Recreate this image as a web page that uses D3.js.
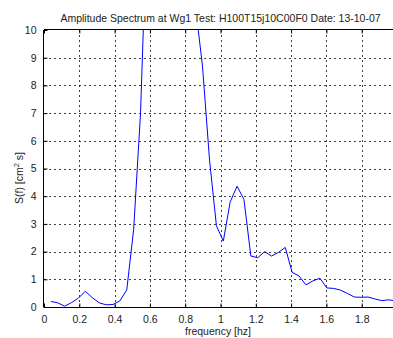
<!DOCTYPE html>
<html>
<head>
<meta charset="utf-8">
<script src="https://cdn.jsdelivr.net/npm/d3@7"></script>
<style>
  body { margin: 0; background: #fff; }
  svg { display: block; font-family: "Liberation Sans", Arial, sans-serif; }
</style>
</head>
<body>
<div id="chart"></div>
<script>
// spectrum bins (hz)
var freqs = [0.039, 0.078, 0.117, 0.156, 0.195, 0.234, 0.273, 0.313, 0.352, 0.391,
             0.430, 0.469, 0.508, 0.547, 0.586, 0.625, 0.664, 0.703, 0.742, 0.781,
             0.820, 0.859, 0.898, 0.938, 0.977, 1.016, 1.055, 1.094, 1.133, 1.172,
             1.211, 1.250, 1.289, 1.328, 1.367, 1.406, 1.445, 1.484, 1.523, 1.563,
             1.602, 1.641, 1.680, 1.719, 1.758, 1.797, 1.836, 1.875, 1.914, 1.953, 1.992];
// S(f) values; peak bins are off the top of the axes in the reference, so estimated
var spectrum = [0.20, 0.15, 0.03, 0.16, 0.32, 0.57, 0.34, 0.15, 0.08, 0.09,
                0.22, 0.62, 2.8, 7.0, 14.5, 20, 24, 25, 22, 17,
                13, 10.8, 8.7, 5.3, 2.93, 2.38, 3.8, 4.36, 3.88, 1.84,
                1.78, 2.0, 1.84, 1.97, 2.15, 1.25, 1.12, 0.8, 0.94, 1.04,
                0.69, 0.67, 0.61, 0.49, 0.36, 0.35, 0.36, 0.29, 0.23, 0.26, 0.22];
var xTicks = [0, 0.2, 0.4, 0.6, 0.8, 1, 1.2, 1.4, 1.6, 1.8];
var yTicks = [0, 1, 2, 3, 4, 5, 6, 7, 8, 9, 10];

var attrs = {
    width: 393,
    height: 338,
    left: 44,
    right: 397,
    top: 30,
    bottom: 307
};

var data = freqs.map(function(f, i) { return { f: f, s: spectrum[i] }; });

var x = d3.scaleLinear().domain([0, 2]).range([attrs.left, attrs.right]);
var y = d3.scaleLinear().domain([0, 10]).range([attrs.bottom, attrs.top]);

var svg = d3.select("#chart").append("svg")
    .attr("width", attrs.width)
    .attr("height", attrs.height);

svg.append("defs").append("clipPath").attr("id", "plotclip")
    .append("rect")
    .attr("x", attrs.left)
    .attr("y", attrs.top)
    .attr("width", attrs.right - attrs.left)
    .attr("height", attrs.bottom - attrs.top);

// dotted grid
var grid = svg.append("g").attr("class", "grid")
    .attr("stroke", "#000")
    .attr("stroke-opacity", 0.75)
    .attr("stroke-dasharray", "2,3");
grid.selectAll(".gx").data(xTicks.slice(1)).enter().append("line")
    .attr("x1", function(d) { return Math.round(x(d)) + 0.5; })
    .attr("x2", function(d) { return Math.round(x(d)) + 0.5; })
    .attr("y1", attrs.top)
    .attr("y2", attrs.bottom);
grid.selectAll(".gy").data(yTicks.slice(1, -1)).enter().append("line")
    .attr("y1", function(d) { return Math.round(y(d)) + 0.5; })
    .attr("y2", function(d) { return Math.round(y(d)) + 0.5; })
    .attr("x1", attrs.left)
    .attr("x2", attrs.right);

// spectrum line
var line = d3.line()
    .x(function(d) { return x(d.f); })
    .y(function(d) { return y(d.s); });
svg.append("path")
    .datum(data)
    .attr("clip-path", "url(#plotclip)")
    .attr("fill", "none")
    .attr("stroke", "#0000ff")
    .attr("stroke-width", 1)
    .attr("d", line);

// axes (MATLAB style, ticks inside)
var xAxis = d3.axisBottom(x).tickValues(xTicks).tickSize(-4).tickPadding(8)
    .tickFormat(function(d) { return d; });
var xTop = d3.axisTop(x).tickValues(xTicks).tickSize(-4).tickFormat("");
var yAxis = d3.axisLeft(y).tickValues(yTicks).tickSize(-4).tickPadding(7)
    .tickFormat(function(d) { return d; });

var gx = svg.append("g")
    .attr("transform", "translate(0," + (attrs.bottom + 0.5) + ")")
    .call(xAxis);
var gt = svg.append("g")
    .attr("transform", "translate(0," + (attrs.top - 0.5) + ")")
    .call(xTop);
var gy = svg.append("g")
    .attr("transform", "translate(" + (attrs.left - 0.5) + ",0)")
    .call(yAxis);

[gx, gt, gy].forEach(function(g) {
    g.select(".domain").attr("stroke", "#000");
    g.selectAll(".tick line").attr("stroke", "#000");
    g.selectAll("text").attr("fill", "#222").attr("font-size", "10.5px")
        .attr("font-family", "Liberation Sans, Arial, sans-serif");
});
gx.select(".domain").attr("d", "M" + attrs.left + ",0H" + attrs.right);
gt.select(".domain").attr("d", "M" + attrs.left + ",0H" + attrs.right);
gy.select(".domain").attr("d", "M0," + attrs.top + "V" + attrs.bottom);

// title and labels
svg.append("text")
    .attr("x", (attrs.left + attrs.right) / 2)
    .attr("y", 22)
    .attr("text-anchor", "middle")
    .attr("font-size", "10.5px")
    .attr("fill", "#222")
    .text("Amplitude Spectrum at Wg1 Test: H100T15j10C00F0 Date: 13-10-07");

svg.append("text")
    .attr("x", 218)
    .attr("y", 335)
    .attr("text-anchor", "middle")
    .attr("font-size", "10.5px")
    .attr("fill", "#222")
    .text("frequency [hz]");

var yl = svg.append("text")
    .attr("transform", "translate(23,178) rotate(-90)")
    .attr("text-anchor", "middle")
    .attr("font-size", "10.5px")
    .attr("fill", "#222");
yl.append("tspan").text("S(f) [cm");
yl.append("tspan").attr("dy", -4).attr("font-size", "7.5px").text("2");
yl.append("tspan").attr("dy", 4).text(" s]");
</script>
</body>
</html>
